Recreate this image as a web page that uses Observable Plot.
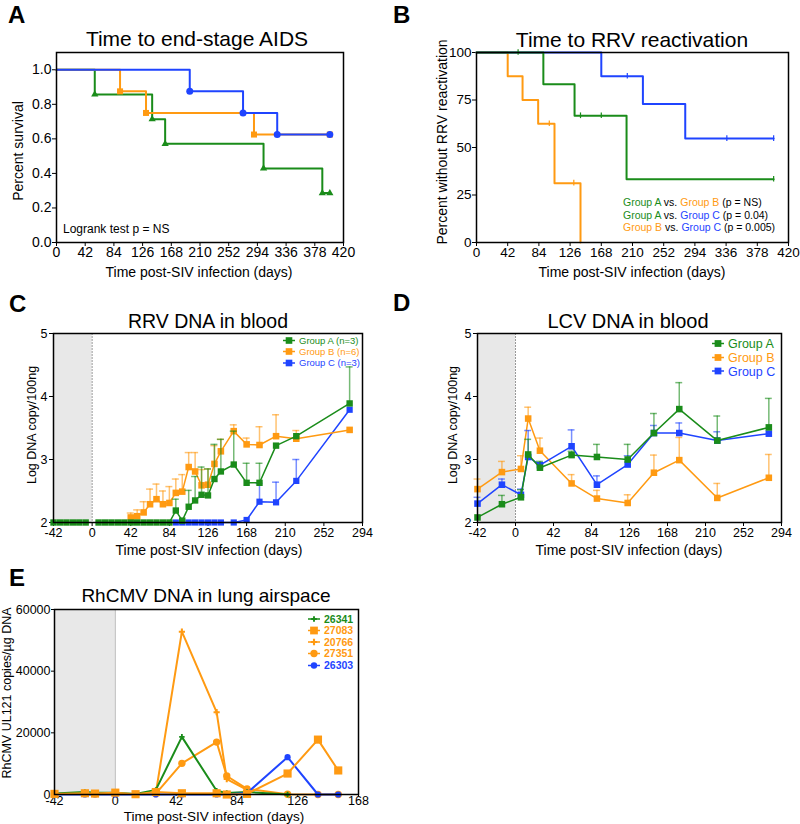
<!DOCTYPE html>
<html><head><meta charset="utf-8">
<script src="https://cdn.jsdelivr.net/npm/d3@7"></script>
<script src="https://cdn.jsdelivr.net/npm/@observablehq/plot@0.6"></script>
<style>
body{margin:0;background:#fff;}
#root{position:relative;width:800px;height:824px;overflow:hidden;background:#fff;}
#root svg{position:absolute;}
</style></head><body><div id="root"></div>
<script>
const GREEN = "#1a8c1a", ORANGE = "#ff9a12", BLUE = "#1f44ff";

// ---------- Panel A: time to end-stage AIDS ----------
const aTicksX = [0,42,84,126,168,210,252,294,336,378,420];
const aTicksY = [0,0.2,0.4,0.6,0.8,1.0];
const aDaysA = [0,56,140,159,303,389,400];
const aSurvA = [1,0.857,0.714,0.571,0.429,0.286,0.286];
const aDaysB = [0,93,131,289,400];
const aSurvB = [1,0.875,0.75,0.625,0.625];
const aDaysC = [0,195,273,323,400];
const aSurvC = [1,0.875,0.75,0.625,0.625];

// ---------- Panel B: time to RRV reactivation ----------
const bTicksX = [0,42,84,126,168,210,252,294,336,378,420];
const bTicksY = [0,25,50,75,100];
const bDaysA = [0,90,132,202,400];
const bPctA = [100,83.3,66.7,33.3,33.3];
const bDaysB = [0,42,62,83,105,140];
const bPctB = [100,87.5,75,62.5,31.25,0];
const bDaysC = [0,168,224,281,400];
const bPctC = [100,87.5,72.9,54.7,54.7];
const bCensDaysA = [56,140,168,400];
const bCensPctA = [100,66.7,66.7,33.3];
const bCensDaysB = [98,131];
const bCensPctB = [62.5,31.25];
const bCensDaysC = [203,337,400];
const bCensPctC = [87.5,54.7,54.7];

// ---------- Panel C: RRV DNA in blood ----------
const cTicksX = [-42,0,42,84,126,168,210,252,294];
const cTicksY = [2,3,4,5];
const cPreDaysA = [-42,-35,-28,-21,-14,-7];
const cPreValsA = [2,2,2,2,2,2];
const cDaysA = [7,14,21,28,35,42,49,56,63,70,77,84,91,98,105,112,119,126,133,140,154,168,182,200,222,280];
const cMeanA = [2,2,2,2,2,2,2,2,2,2,2,2,2.19,2.03,2.25,2.35,2.44,2.43,2.69,2.81,2.92,2.63,2.63,3.22,3.37,3.89];
const cUpA   = [null,null,null,null,null,null,null,null,null,null,null,null,2.37,null,2.51,2.73,2.88,2.85,3.24,3.32,3.45,2.94,2.94,null,null,4.47];
const cDaysB = [42,49,56,63,70,77,84,91,98,105,112,119,126,133,140,154,168,182,200,222,280];
const cMeanB = [2.08,2.10,2.16,2.29,2.37,2.29,2.31,2.47,2.49,2.88,2.81,2.59,2.60,2.93,3.13,3.45,3.24,3.23,3.37,3.33,3.47];
const cUpB   = [2.15,2.20,2.33,2.53,2.61,2.50,2.57,2.69,2.76,3.11,3.11,2.84,2.85,3.22,3.32,3.55,3.34,3.52,3.71,3.46,null];
const cDaysC = [91,98,105,112,119,126,133,140,154,168,182,200,222,280];
const cMeanC = [2,2,2,2,2,2,2,2,2,2.04,2.33,2.32,2.66,3.79];
const cUpC   = [null,null,null,null,null,null,null,null,null,null,2.62,2.64,3.00,null];

// ---------- Panel D: LCV DNA in blood ----------
const dTicksX = [-42,0,42,84,126,168,210,252,294];
const dTicksY = [2,3,4,5];
const dDays  = [-42,-15,6,14,27,62,90,124,153,181,223,280];
const dMeanA = [2.08,2.29,2.40,3.08,2.87,3.07,3.04,3.00,3.42,3.80,3.30,3.51];
const dUpA   = [null,2.43,2.52,3.32,2.97,3.13,3.24,3.24,3.73,4.22,3.69,3.97];
const dMeanB = [2.53,2.80,2.85,3.65,3.14,2.62,2.38,2.31,2.79,2.99,2.39,2.71];
const dUpB   = [2.69,2.97,3.06,3.83,3.34,2.76,2.51,2.44,3.07,3.35,2.62,3.08];
const dMeanC = [2.30,2.60,2.44,3.04,2.91,3.21,2.60,2.92,3.42,3.42,3.30,3.41];
const dUpC   = [2.40,2.69,2.53,3.46,2.95,3.47,2.74,3.06,3.54,3.58,3.44,null];

// ---------- Panel E: RhCMV DNA in lung airspace ----------
const eTicksX = [-42,0,42,84,126,168];
const eTicksY = [0,20000,40000,60000];
const eDays   = [-42,-21,-14,0,14,28,46,70,77,91,119,140,154];
const e26341  = [300,800,600,600,200,1500,18700,1200,500,800,0,null,null];
const e27083  = [200,400,300,600,100,800,400,400,0,200,6800,17800,7800];
const e20766  = [null,null,null,null,null,500,52800,26700,5000,1500,null,null,null];
const e27351  = [null,null,null,null,null,300,10100,17000,6000,1800,100,0,0];
const e26303  = [0,0,0,0,0,0,0,0,0,500,12100,0,0];

// ---------- helpers ----------
const root = document.getElementById("root");
const FONT = '"Liberation Sans", Arial, Helvetica, sans-serif';
const str = d => String(d);
const rows = (xs, ys, hs) => xs.map((x, i) => ({x, y: ys[i], hi: hs ? hs[i] : null})).filter(r => r.y != null);
const style = size => ({fontFamily: FONT, fontSize: size + "px", background: "transparent", color: "black", overflow: "visible"});
function put(svg, left, top) { svg.style.position = "absolute"; svg.style.left = left + "px"; svg.style.top = top + "px"; root.appendChild(svg); }
function errMarks(data, color, half) {
  const d = data.filter(r => r.hi != null);
  return [
    Plot.ruleX(d, {x: "x", y1: "y", y2: "hi", stroke: color, strokeOpacity: 0.6, strokeWidth: 1.5}),
    Plot.ruleY(d, {y: "hi", x1: r => r.x - half, x2: r => r.x + half, stroke: color, strokeOpacity: 0.6, strokeWidth: 1.5})
  ];
}
function group(data, color, sym, r, half, lw) {
  return [
    ...errMarks(data, color, half),
    Plot.line(data, {x: "x", y: "y", stroke: color, strokeWidth: lw}),
    Plot.dot(data, {x: "x", y: "y", symbol: sym, fill: color, r})
  ];
}

// ---------- Panel A ----------
put(Plot.plot({
  width: 400, height: 280, marginTop: 52, marginRight: 57, marginBottom: 38, marginLeft: 56,
  style: style(14),
  x: {domain: [0, 420], ticks: aTicksX, tickFormat: str, tickSize: 4, tickPadding: 1, label: null},
  y: {domain: [0, 1.1], ticks: aTicksY, tickFormat: d3.format(".1f"), tickSize: 4, tickPadding: 1, label: null},
  marks: [
    Plot.line(rows(aDaysA, aSurvA), {x: "x", y: "y", curve: "step-after", stroke: GREEN, strokeWidth: 2}),
    Plot.line(rows(aDaysB, aSurvB), {x: "x", y: "y", curve: "step-after", stroke: ORANGE, strokeWidth: 2}),
    Plot.line(rows(aDaysC, aSurvC), {x: "x", y: "y", curve: "step-after", stroke: BLUE, strokeWidth: 2}),
    Plot.dot(rows(aDaysA, aSurvA).slice(1), {x: "x", y: "y", symbol: "triangle", fill: GREEN, r: 2.7}),
    Plot.dot(rows(aDaysB, aSurvB).slice(1), {x: "x", y: "y", symbol: "square", fill: ORANGE, r: 3.4}),
    Plot.dot(rows(aDaysC, aSurvC).slice(1), {x: "x", y: "y", symbol: "circle", fill: BLUE, r: 3.5}),
    Plot.frame({stroke: "black", strokeWidth: 1.5})
  ]
}), 0, 0);

// ---------- Panel B ----------
put(Plot.plot({
  width: 400, height: 280, marginTop: 52, marginRight: 12, marginBottom: 38, marginLeft: 76,
  style: style(13.5),
  x: {domain: [0, 420], ticks: bTicksX, tickFormat: str, tickSize: 4, tickPadding: 1, label: null},
  y: {domain: [0, 100], ticks: bTicksY, tickFormat: str, tickSize: 4, tickPadding: 1, label: null},
  marks: [
    Plot.line(rows(bDaysB, bPctB), {x: "x", y: "y", curve: "step-after", stroke: ORANGE, strokeWidth: 2}),
    Plot.line(rows(bDaysC, bPctC), {x: "x", y: "y", curve: "step-after", stroke: BLUE, strokeWidth: 2}),
    Plot.line(rows(bDaysA, bPctA), {x: "x", y: "y", curve: "step-after", stroke: GREEN, strokeWidth: 2}),
    Plot.ruleX(rows(bCensDaysB, bCensPctB), {x: "x", y1: d => d.y - 1.5, y2: d => d.y + 1.5, stroke: ORANGE, strokeWidth: 1.2}),
    Plot.ruleX(rows(bCensDaysC, bCensPctC), {x: "x", y1: d => d.y - 1.5, y2: d => d.y + 1.5, stroke: BLUE, strokeWidth: 1.2}),
    Plot.ruleX(rows(bCensDaysA, bCensPctA), {x: "x", y1: d => d.y - 1.5, y2: d => d.y + 1.5, stroke: GREEN, strokeWidth: 1.2}),
    Plot.frame({stroke: "black", strokeWidth: 1.5})
  ]
}), 400, 0);

// ---------- Panel C ----------
put(Plot.plot({
  width: 400, height: 290, marginTop: 53, marginRight: 38, marginBottom: 48, marginLeft: 53,
  style: style(12.5),
  x: {domain: [-42, 294], ticks: cTicksX, tickFormat: str, tickSize: 4, tickPadding: 2, label: null},
  y: {domain: [2, 5], ticks: cTicksY, tickFormat: str, tickSize: 4, tickPadding: 2, label: null},
  marks: [
    Plot.rect([{x1: -42, x2: 0}], {x1: "x1", x2: "x2", y1: 2, y2: 5, fill: "#e8e8e8"}),
    Plot.ruleX([0], {stroke: "#999", strokeDasharray: "2,1", strokeWidth: 1}),
    ...group(rows(cDaysC, cMeanC, cUpC), BLUE, "square", 3.5, 3.8, 1.5),
    ...group(rows(cDaysB, cMeanB, cUpB), ORANGE, "square", 3.7, 3.8, 1.5),
    Plot.line(rows(cPreDaysA, cPreValsA), {x: "x", y: "y", stroke: GREEN, strokeWidth: 1.5}),
    Plot.dot(rows(cPreDaysA, cPreValsA), {x: "x", y: "y", symbol: "square", fill: GREEN, r: 3.6}),
    ...group(rows(cDaysA, cMeanA, cUpA), GREEN, "square", 3.6, 3.8, 1.5),
    Plot.frame({stroke: "black", strokeWidth: 1.5})
  ]
}), 0, 280);

// ---------- Panel D ----------
put(Plot.plot({
  width: 400, height: 290, marginTop: 53, marginRight: 19, marginBottom: 48, marginLeft: 77,
  style: style(12.5),
  x: {domain: [-42, 294], ticks: dTicksX, tickFormat: str, tickSize: 4, tickPadding: 2, label: null},
  y: {domain: [2, 5], ticks: dTicksY, tickFormat: str, tickSize: 4, tickPadding: 2, label: null},
  marks: [
    Plot.rect([{x1: -42, x2: 0}], {x1: "x1", x2: "x2", y1: 2, y2: 5, fill: "#e8e8e8"}),
    Plot.ruleX([0], {stroke: "#999", strokeDasharray: "2,1", strokeWidth: 1}),
    ...group(rows(dDays, dMeanB, dUpB), ORANGE, "square", 3.7, 3.8, 1.5),
    ...group(rows(dDays, dMeanC, dUpC), BLUE, "square", 3.7, 3.8, 1.5),
    ...group(rows(dDays, dMeanA, dUpA), GREEN, "square", 3.7, 3.8, 1.5),
    Plot.frame({stroke: "black", strokeWidth: 1.5})
  ]
}), 400, 280);

// ---------- Panel E ----------
put(Plot.plot({
  width: 400, height: 254, marginTop: 39, marginRight: 42, marginBottom: 30, marginLeft: 54,
  style: style(12.5),
  x: {domain: [-42, 168], ticks: eTicksX, tickFormat: str, tickSize: 2, tickPadding: 0, label: null},
  y: {domain: [0, 60000], ticks: eTicksY, tickFormat: str, tickSize: 3, tickPadding: 1, label: null},
  marks: [
    Plot.rect([{x1: -42, x2: 0}], {x1: "x1", x2: "x2", y1: 0, y2: 60000, fill: "#e8e8e8"}),
    Plot.ruleX([0], {stroke: "#bbb", strokeWidth: 1}),
    Plot.line(rows(eDays, e27351), {x: "x", y: "y", stroke: ORANGE, strokeWidth: 2}),
    Plot.dot(rows(eDays, e27351), {x: "x", y: "y", symbol: "circle", fill: ORANGE, r: 3.7}),
    Plot.line(rows(eDays, e20766), {x: "x", y: "y", stroke: ORANGE, strokeWidth: 2}),
    Plot.dot(rows(eDays, e20766), {x: "x", y: "y", symbol: "cross", fill: ORANGE, r: 2.6}),
    Plot.line(rows(eDays, e26341), {x: "x", y: "y", stroke: GREEN, strokeWidth: 2}),
    Plot.dot(rows(eDays, e26341), {x: "x", y: "y", symbol: "cross", fill: GREEN, r: 2.3}),
    Plot.line(rows(eDays, e26303), {x: "x", y: "y", stroke: BLUE, strokeWidth: 2}),
    Plot.dot(rows(eDays, e26303), {x: "x", y: "y", symbol: "circle", fill: BLUE, r: 3.1}),
    Plot.line(rows(eDays, e27083), {x: "x", y: "y", stroke: ORANGE, strokeWidth: 2}),
    Plot.dot(rows(eDays, e27083), {x: "x", y: "y", symbol: "square", fill: ORANGE, r: 4.6}),
    Plot.frame({stroke: "black", strokeWidth: 1.5})
  ]
}), 0, 570);

// ---------- Text overlay (titles, labels, legends) ----------
const ov = d3.select(root).append("svg")
  .attr("width", 800).attr("height", 824)
  .style("left", "0px").style("top", "0px").style("pointer-events", "none")
  .attr("font-family", FONT);

function txt(x, y, s, o = {}) {
  const t = ov.append("text").attr("x", x).attr("y", y)
    .attr("font-size", o.size || 14).attr("text-anchor", o.anchor || "start")
    .attr("font-weight", o.weight || "normal").attr("fill", o.fill || "black")
    .style("white-space", "pre").text(s);
  if (o.rotate) t.attr("transform", `rotate(${o.rotate},${x},${y})`);
  return t;
}
function ctxt(x, y, parts, size) {
  const t = ov.append("text").attr("x", x).attr("y", y).attr("font-size", size).style("white-space", "pre");
  parts.forEach(([s, c]) => t.append("tspan").attr("fill", c).text(s));
}
function legendRow(x, y, color, sym, area, label, size, weight, half) {
  ov.append("line").attr("x1", x - half).attr("x2", x + half).attr("y1", y).attr("y2", y)
    .attr("stroke", color).attr("stroke-width", 1.5);
  ov.append("path").attr("d", d3.symbol(sym, area)()).attr("transform", `translate(${x},${y})`).attr("fill", color);
  txt(x + half + 4, y + size * 0.36, label, {size, fill: color, weight});
}

// panel letters
[["A", 8, 23], ["B", 393, 23], ["C", 9, 312], ["D", 393, 311], ["E", 9, 586]]
  .forEach(([s, x, y]) => txt(x, y, s, {size: 24, weight: "bold"}));

// titles
txt(197, 46, "Time to end-stage AIDS", {size: 21, anchor: "middle"});
txt(632, 47, "Time to RRV reactivation", {size: 21, anchor: "middle"});
txt(208, 328, "RRV DNA in blood", {size: 19.5, anchor: "middle"});
txt(628, 328, "LCV DNA in blood", {size: 20, anchor: "middle"});
txt(206, 602, "RhCMV DNA in lung airspace", {size: 19, anchor: "middle"});

// x axis labels
txt(199, 277, "Time post-SIV infection (days)", {size: 14, anchor: "middle"});
txt(632, 277, "Time post-SIV infection (days)", {size: 14, anchor: "middle"});
txt(209, 555, "Time post-SIV infection (days)", {size: 14, anchor: "middle"});
txt(629, 555, "Time post-SIV infection (days)", {size: 14, anchor: "middle"});
txt(214, 820.5, "Time post-SIV infection (days)", {size: 13.5, anchor: "middle"});

// y axis labels
txt(23, 151, "Percent survival", {size: 14, anchor: "middle", rotate: -90});
txt(447, 142, "Percent without RRV reactivation", {size: 14, anchor: "middle", rotate: -90});
txt(36, 425, "Log DNA copy/100ng", {size: 12.5, anchor: "middle", rotate: -90});
txt(457, 425, "Log DNA copy/100ng", {size: 12.5, anchor: "middle", rotate: -90});
txt(11, 693, "RhCMV UL121 copies/µg DNA", {size: 12.5, anchor: "middle", rotate: -90});

// panel A note
txt(63, 233, "Logrank test p = NS", {size: 12});

// panel B comparisons
ctxt(623, 205.5, [["Group A", GREEN], [" vs. ", "black"], ["Group B", ORANGE], [" (p = NS)", "black"]], 10.5);
ctxt(623, 218.5, [["Group A", GREEN], [" vs. ", "black"], ["Group C", BLUE], [" (p = 0.04)", "black"]], 10.5);
ctxt(623, 231, [["Group B", ORANGE], [" vs. ", "black"], ["Group C", BLUE], [" (p = 0.005)", "black"]], 10.5);

// panel C legend
legendRow(289, 340.5, GREEN, d3.symbolSquare, 44, "Group A (n=3)", 9.5, "normal", 6);
legendRow(289, 351.5, ORANGE, d3.symbolSquare, 44, "Group B (n=6)", 9.5, "normal", 6);
legendRow(289, 363, BLUE, d3.symbolSquare, 44, "Group C (n=3)", 9.5, "normal", 6);

// panel D legend
legendRow(718, 343.5, GREEN, d3.symbolSquare, 46, "Group A", 12.5, "normal", 6);
legendRow(718, 357.5, ORANGE, d3.symbolSquare, 46, "Group B", 12.5, "normal", 6);
legendRow(718, 371, BLUE, d3.symbolSquare, 46, "Group C", 12.5, "normal", 6);

// panel E legend
legendRow(314, 619, GREEN, d3.symbolCross, 18, "26341", 10.5, "bold", 6);
legendRow(314, 630.5, ORANGE, d3.symbolSquare, 60, "27083", 10.5, "bold", 6);
legendRow(314, 642, ORANGE, d3.symbolCross, 22, "20766", 10.5, "bold", 6);
legendRow(314, 653.5, ORANGE, d3.symbolCircle, 42, "27351", 10.5, "bold", 6);
legendRow(314, 665.5, BLUE, d3.symbolCircle, 32, "26303", 10.5, "bold", 6);
</script>
</body></html>
